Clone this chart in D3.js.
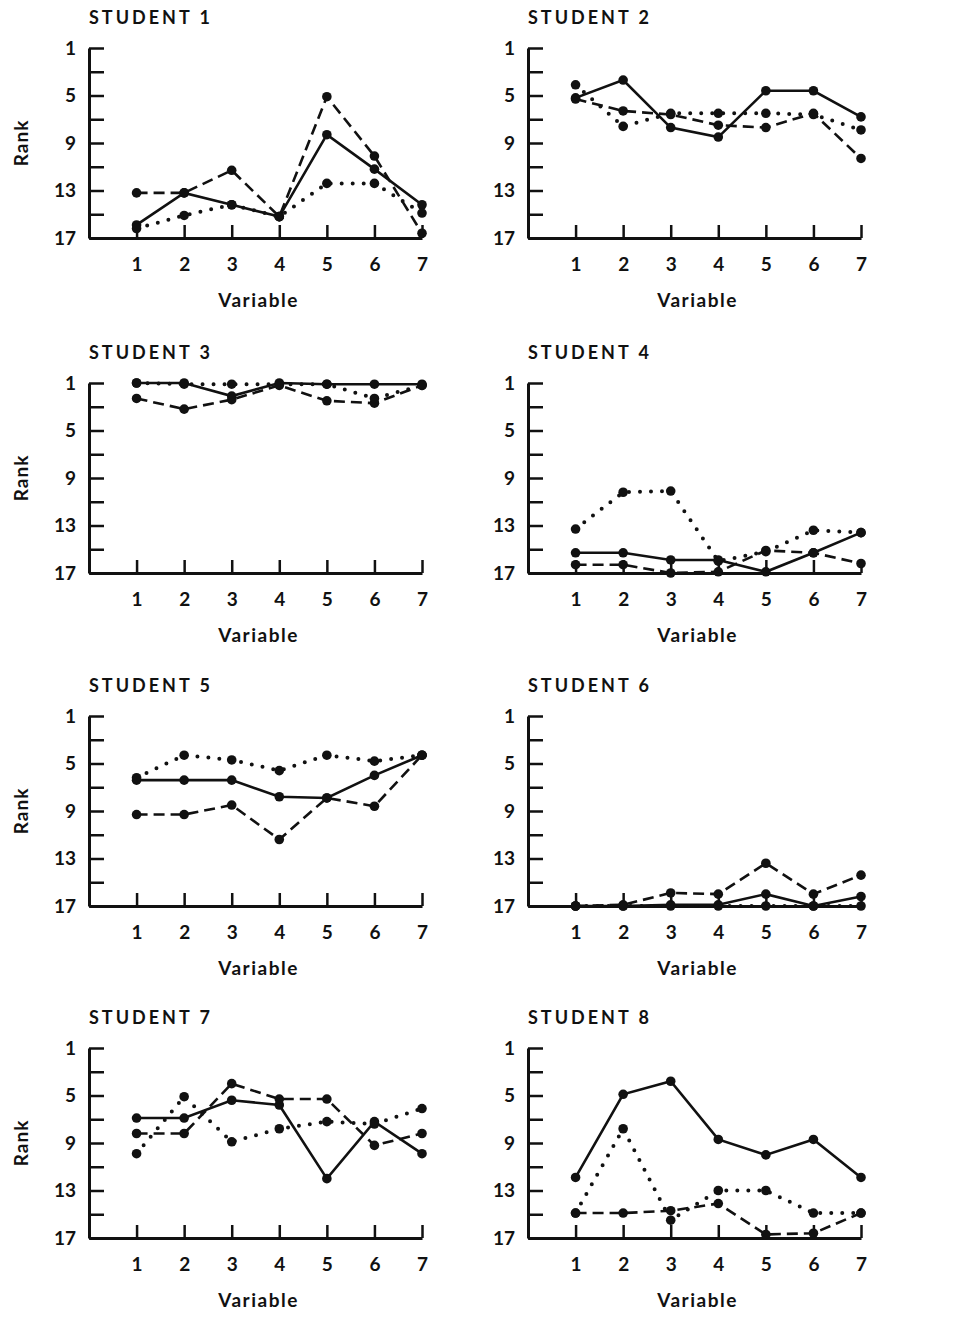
<!DOCTYPE html>
<html>
<head>
<meta charset="utf-8">
<script src="https://cdn.jsdelivr.net/npm/d3@7/dist/d3.min.js"></script>
<style>
  body { margin: 0; background: #fff; }
  text { font-family: Lato, "DejaVu Sans", sans-serif; fill: #111; }
</style>
</head>
<body>
<svg id="chart" width="956" height="1321"></svg>
<script>
// ranks, one row per student, variables 1..7
var students = ["STUDENT 1", "STUDENT 2", "STUDENT 3", "STUDENT 4",
  "STUDENT 5", "STUDENT 6", "STUDENT 7", "STUDENT 8"];
var variables = [1, 2, 3, 4, 5, 6, 7];
var rankTicks = [1, 3, 5, 7, 9, 11, 13, 15, 17];
var rankLabels = [1, 5, 9, 13, 17];

var solidRanks = [
  [15.9, 13.2, 14.2, 15.2, 8.3, 11.2, 14.2],
  [5.2, 3.7, 7.7, 8.5, 4.6, 4.6, 6.8],
  [1, 1, 2.1, 1, 1.1, 1.1, 1.1],
  [15.3, 15.3, 15.9, 15.9, 16.9, 15.3, 13.6],
  [6.4, 6.4, 6.4, 7.8, 7.9, 6.0, 4.3],
  [17, 17, 16.9, 16.9, 16.0, 17, 16.2],
  [6.9, 6.9, 5.4, 5.8, 12.0, 7.2, 9.9],
  [11.9, 4.9, 3.8, 8.7, 10.0, 8.7, 11.9]
];
var dashedRanks = [
  [13.2, 13.2, 11.3, 15.2, 5.1, 10.1, 16.6],
  [5.3, 6.3, 6.6, 7.5, 7.7, 6.5, 10.3],
  [2.3, 3.2, 2.4, 1.2, 2.5, 2.7, 1.2],
  [16.3, 16.3, 17, 16.9, 15.1, 15.3, 16.2],
  [9.3, 9.3, 8.5, 11.4, 7.9, 8.6, 4.3],
  [17, 16.9, 15.9, 16.0, 13.4, 16.0, 14.4],
  [8.2, 8.2, 4.0, 5.3, 5.3, 9.2, 8.2],
  [14.9, 14.9, 14.7, 14.1, 16.7, 16.6, 14.9]
];
var dottedRanks = [
  [16.2, 15.1, 14.2, 15.2, 12.4, 12.4, 14.9],
  [4.1, 7.6, 6.5, 6.5, 6.5, 6.6, 7.9],
  [1, 1.1, 1.1, 1.1, 1.1, 2.3, 1.2],
  [13.3, 10.2, 10.1, 16.0, 15.2, 13.4, 13.6],
  [6.2, 4.3, 4.7, 5.6, 4.3, 4.8, 4.3],
  [17, 17, 17, 17, 17, 17, 17],
  [9.9, 5.1, 8.9, 7.8, 7.2, 7.4, 6.1],
  [14.9, 7.8, 15.5, 13.0, 13.0, 14.9, 14.9]
];

var svg = d3.select("#chart");
var colX = [89, 528],
  rowTop = [48, 383, 716, 1048],
  plotH = 190,
  plotW = 333;

var series = [
  { ranks: solidRanks, dash: null, width: 2.6 },
  { ranks: dashedRanks, dash: "11 6", width: 2.6 },
  { ranks: dottedRanks, dash: "0 11", width: 4 }
];

students.forEach(function (name, i) {
  var col = i % 2,
    row = Math.floor(i / 2);
  var g = svg.append("g")
    .attr("transform", "translate(" + colX[col] + "," + rowTop[row] + ")");

  var x = d3.scaleLinear().domain([0, 7]).range([0, plotW]),
    y = d3.scaleLinear().domain([1, 17]).range([0, plotH]);

  // title
  g.append("text")
    .attr("x", 0)
    .attr("y", -24)
    .style("font-size", "18px")
    .style("font-weight", "700")
    .style("letter-spacing", "3px")
    .text(name);

  // rank axis, ticks point inward
  var yAxis = g.append("g")
    .call(d3.axisLeft(y)
      .tickValues(rankTicks)
      .tickSize(-15)
      .tickSizeOuter(0)
      .tickPadding(13)
      .tickFormat(function (d) { return rankLabels.indexOf(d) >= 0 ? d : ""; }));

  // variable axis, ticks point up
  var xAxis = g.append("g")
    .attr("transform", "translate(0," + plotH + ")")
    .call(d3.axisBottom(x)
      .tickValues(variables)
      .tickSize(-13)
      .tickSizeOuter(0)
      .tickPadding(20)
      .tickFormat(d3.format("d")));

  [yAxis, xAxis].forEach(function (ax) {
    ax.select(".domain").attr("stroke", "#111").attr("stroke-width", 3);
    ax.selectAll(".tick line").attr("stroke", "#111").attr("stroke-width", 2.5);
    ax.selectAll(".tick text")
      .style("font-size", "19px")
      .style("font-weight", "700")
      .style("font-family", "Lato, 'DejaVu Sans', sans-serif")
      .attr("fill", "#111");
  });

  g.append("text")
    .attr("x", plotW / 2 + 3)
    .attr("y", plotH + 69)
    .attr("text-anchor", "middle")
    .style("font-size", "19px")
    .style("font-weight", "700")
    .style("letter-spacing", "1.5px")
    .text("Variable");

  if (col == 0) {
    g.append("text")
      .attr("transform", "translate(" + (-61) + "," + (plotH / 2) + ") rotate(-90)")
      .attr("text-anchor", "middle")
      .style("font-size", "19px")
      .style("font-weight", "700")
      .style("letter-spacing", "1px")
      .text("Rank");
  }

  var line = d3.line()
    .x(function (d, j) { return x(variables[j]); })
    .y(function (d) { return y(d); });

  series.forEach(function (s) {
    var vals = s.ranks[i];
    g.append("path")
      .datum(vals)
      .attr("d", line)
      .attr("fill", "none")
      .attr("stroke", "#111")
      .attr("stroke-width", s.width)
      .attr("stroke-linecap", s.dash == "0 11" ? "round" : "butt")
      .attr("stroke-dasharray", s.dash);

    g.selectAll(null)
      .data(vals)
      .enter()
      .append("circle")
      .attr("cx", function (d, j) { return x(variables[j]); })
      .attr("cy", function (d) { return y(d); })
      .attr("r", 4.8)
      .attr("fill", "#111");
  });
});
</script>
</body>
</html>
